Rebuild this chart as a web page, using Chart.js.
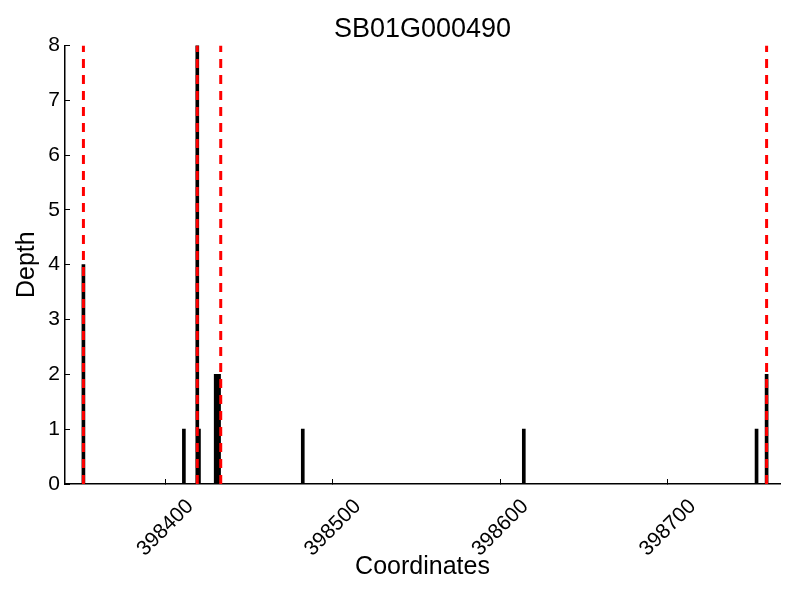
<!DOCTYPE html>
<html>
<head>
<meta charset="utf-8">
<script src="https://cdn.jsdelivr.net/npm/chart.js@4/dist/chart.umd.min.js"></script>
<style>
  html, body { margin: 0; padding: 0; background: #fff; }
  #wrap { width: 800px; height: 600px; }
</style>
</head>
<body>
<div id="wrap"><canvas id="depthChart"></canvas></div>
<script>
// depth per coordinate
const coords = [398351, 398411, 398419, 398420, 398430, 398431, 398432, 398482, 398614, 398753, 398759];
const depths = [4, 1, 8, 1, 2, 2, 2, 1, 1, 1, 2];
// red dashed markers (exon boundaries)
const markers = [398351, 398419, 398433, 398759];
const xTicks = [398400, 398500, 398600, 398700];
const xMin = 398340, xMax = 398767;
const yMax = 8;

document.addEventListener('DOMContentLoaded', function() {
  const font = "'Liberation Sans', Arial, sans-serif";
  Chart.defaults.font.family = font;
  Chart.defaults.color = '#000';

  const datasets = [{
    type: 'bar',
    label: 'Depth',
    data: coords.map((c, i) => ({ x: c, y: depths[i] })),
    backgroundColor: '#000',
    borderColor: '#000',
    barThickness: 3,
    order: 2
  }];
  markers.forEach(m => {
    datasets.push({
      type: 'line',
      data: [{ x: m, y: 0 }, { x: m, y: yMax }],
      borderColor: '#ff0000',
      borderWidth: 3,
      borderDash: [9, 7],
      pointRadius: 0,
      order: 1
    });
  });

  // x tick labels centred on the tick and turned 45deg (matplotlib style)
  const rotatedLabels = {
    id: 'rotatedLabels',
    afterDraw(chart) {
      const xs = chart.scales.x, c = chart.ctx;
      c.save();
      c.font = "21px " + font;
      c.fillStyle = '#000';
      c.textAlign = 'center';
      c.textBaseline = 'middle';
      xTicks.forEach(v => {
        c.save();
        c.translate(xs.getPixelForValue(v), chart.chartArea.bottom + 44);
        c.rotate(-Math.PI / 4);
        c.fillText(String(v), 0, 0);
        c.restore();
      });
      c.restore();
    }
  };

  const ctx = document.getElementById('depthChart').getContext('2d');
  new Chart(ctx, {
    type: 'bar',
    data: { datasets: datasets },
    plugins: [rotatedLabels],
    options: {
      responsive: true,
      maintainAspectRatio: false,
      animation: false,
      layout: { padding: { left: 0, right: 20, top: 0, bottom: 0 } },
      plugins: {
        legend: { display: false },
        tooltip: { enabled: false },
        title: {
          display: true,
          fullSize: false,   // centre over the plot area, not the canvas
          text: 'SB01G000490',
          color: '#000',
          font: { size: 27, weight: 'normal', family: font },
          padding: { top: 13, bottom: 0 }
        }
      },
      scales: {
        x: {
          type: 'linear',
          min: xMin,
          max: xMax,
          offset: false,
          afterBuildTicks: s => { s.ticks = xTicks.map(v => ({ value: v })); },
          afterFit: s => { s.height = 116; },
          grid: { offset: false, drawOnChartArea: false, tickLength: -5, color: '#000' },
          border: { color: '#000', width: 1.5 },
          ticks: { display: false },
          title: {
            display: true, text: 'Coordinates',
            font: { size: 25 }, padding: { top: 0, bottom: 18 }
          }
        },
        y: {
          min: 0,
          max: yMax,
          afterFit: s => { s.width = 65; },
          grid: { drawOnChartArea: false, tickLength: -5, color: '#000' },
          border: { color: '#000', width: 1.5 },
          ticks: { stepSize: 1, padding: 10, font: { size: 21 } },
          title: {
            display: true, text: 'Depth',
            font: { size: 25 }, padding: 12
          }
        }
      }
    }
  });
});
</script>
</body>
</html>
